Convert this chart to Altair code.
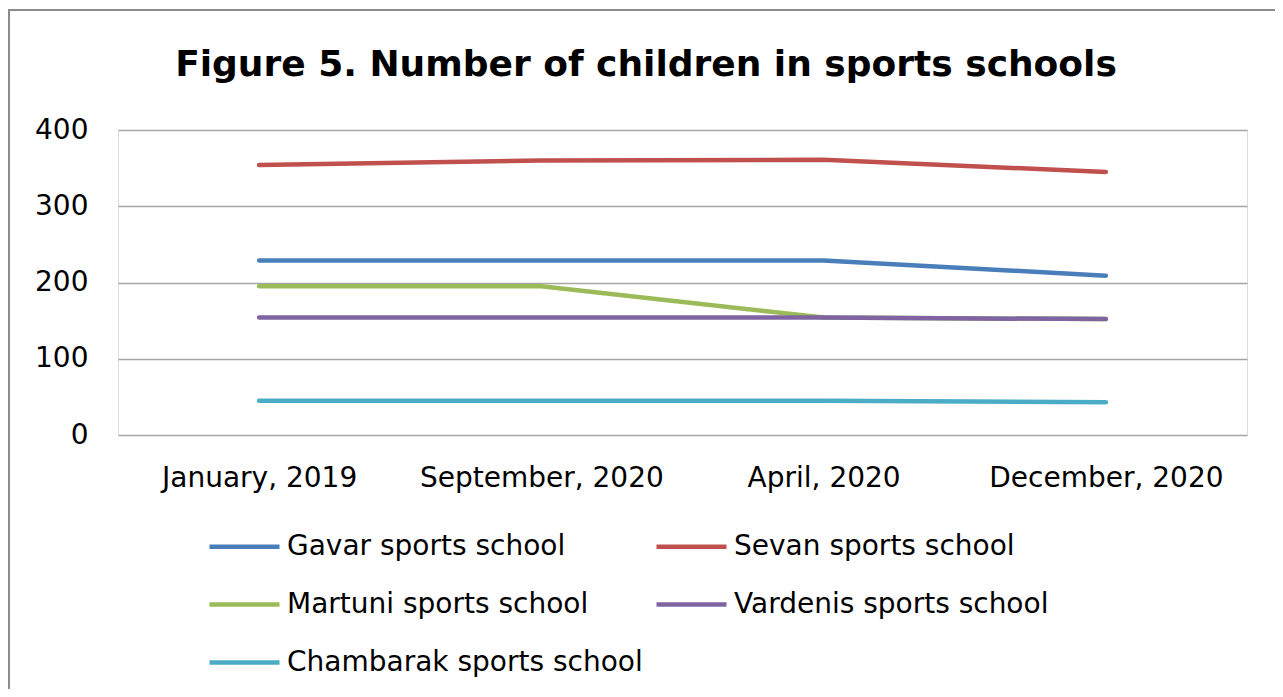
import altair as alt
import pandas as pd

categories = ["January, 2019", "September, 2020", "April, 2020", "December, 2020"]
series_names = [
    "Gavar sports school",
    "Sevan sports school",
    "Martuni sports school",
    "Vardenis sports school",
    "Chambarak sports school",
]
gavar = [229, 229, 229, 209]
sevan = [354, 360, 361, 345]
martuni = [195, 195, 154, 152]
vardenis = [154, 154, 154, 152]
chambarak = [45, 45, 45, 43]
colors = ["#4A7EBB", "#C0504D", "#9BBB59", "#8064A2", "#4BACC6"]
title_text = ["Figure 5. Number of children in sports schools"]

values = [gavar, sevan, martuni, vardenis, chambarak]
rows = []
for name, vals in zip(series_names, values):
    for cat, v in zip(categories, vals):
        rows.append({"period": cat, "school": name, "children": v})
df = pd.DataFrame(rows)

FONT = "DejaVu Sans"

lines = alt.Chart(df).mark_line(strokeWidth=4.5, strokeCap="round").encode(
    x=alt.X("period:N", sort=categories,
            scale=alt.Scale(type="point", padding=0.5),
            axis=alt.Axis(title=None, labelAngle=0, ticks=False, domain=False,
                          grid=False, labelFont=FONT, labelFontSize=28,
                          labelColor="#000000", labelPadding=29, labelLimit=500)),
    y=alt.Y("children:Q", scale=alt.Scale(domain=[0, 400]),
            axis=alt.Axis(title=None, values=[0, 100, 200, 300, 400], ticks=False,
                          domain=False, gridColor="#A6A6A6", gridWidth=1.5,
                          labelFont=FONT, labelFontSize=28, labelColor="#000000",
                          labelPadding=30)),
    color=alt.Color("school:N", sort=series_names,
                    scale=alt.Scale(domain=series_names, range=colors),
                    legend=alt.Legend(title=None, orient="none", legendX=89, legendY=379,
                                      direction="horizontal",
                                      columns=2, columnPadding=4, rowPadding=6,
                                      symbolType="stroke", symbolSize=4900,
                                      symbolStrokeWidth=4.5, labelFont=FONT,
                                      labelFontSize=28, labelColor="#000000",
                                      labelOffset=5, labelLimit=600)),
)

border = alt.Chart(pd.DataFrame({"b": [0]})).mark_rect(
    fill=None, stroke="#8C8C8C", strokeWidth=2
).encode(
    x=alt.value(-109), x2=alt.value(1300),
    y=alt.value(-120), y2=alt.value(800),
)

title = alt.Chart(pd.DataFrame({"t": title_text})).mark_text(
    font=FONT, fontSize=36, fontWeight="bold", color="#000000",
    align="center", baseline="middle"
).encode(
    text="t:N", x=alt.value(528), y=alt.value(-65),
)

chart = alt.layer(border, title, lines).properties(
    width=1129, height=305,
    padding={"left": 110, "top": 122, "right": 28, "bottom": 254},
    autosize=alt.AutoSizeParams(type="none"),
).configure_view(stroke=None).configure(background="white")

chart.save("out.html", embed_options={"renderer": "svg", "actions": False})
